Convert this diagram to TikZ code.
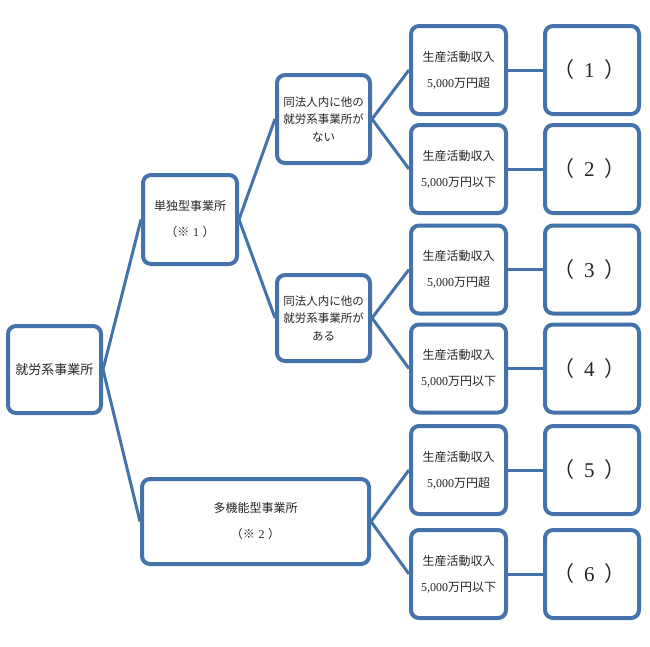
\documentclass[tikz,border=0pt]{standalone}
\usepackage{fontspec}
\setmainfont{Liberation Serif}
\newfontfamily\cjk{Noto Sans CJK JP}
\usetikzlibrary{positioning,shadows}
\definecolor{boxblue}{RGB}{68,114,170}
\newcommand \incometext[1]
{
{\cjk 生産活動収入}\\5,000{\cjk 万円#1}
}
\newcommand \casetext[1]
{
{\cjk （}\hspace{0.45em}#1\hspace{0.45em}{\cjk ）}
}
\newcommand \notetext[1]
{
{\cjk （※}\hspace{0.3em}#1\hspace{0.3em}{\cjk ）}
}
\begin{document}
\begin{tikzpicture}[x=1pt, y=-1pt, line join=round,
  box/.style={draw=boxblue, line width=4pt, rounded corners=8pt, fill=white,
    align=center, inner sep=0pt, text=black!85,
    drop shadow={shadow xshift=1.5pt, shadow yshift=-1.5pt, opacity=0.25}},
  twoline/.style={font=\fontsize{12}{26}\selectfont},
  threeline/.style={font=\fontsize{11.5}{17.5}\selectfont\cjk},
  incbox/.style={box, twoline, minimum width=95pt, minimum height=88pt},
  casebox/.style={box, minimum width=94pt, minimum height=88pt, font=\fontsize{21}{24}\selectfont},
  link/.style={draw=boxblue, line width=3pt}]
\useasboundingbox (0,0) rectangle (650,646);
% first and second level
\node[box, minimum width=93pt, minimum height=87pt, font=\fontsize{13}{16}\selectfont\cjk] (root) at (54.5,369.5) {就労系事業所};
\node[box, twoline, minimum width=94pt, minimum height=89pt] (tandoku) at (190,219.5) {{\cjk 単独型事業所}\\\notetext{1}};
\node[box, twoline, minimum width=227pt, minimum height=85pt] (takino) at (255.5,521.5) {{\cjk 多機能型事業所}\\\notetext{2}};
% third level
\node[box, threeline, minimum width=93pt, minimum height=88pt] (nai) at (323.5,119) {同法人内に他の\\就労系事業所が\\ない};
\node[box, threeline, minimum width=93pt, minimum height=86pt] (aru) at (323.5,318) {同法人内に他の\\就労系事業所が\\ある};
% income boxes
\node[incbox] (inc1) at (458.5,70)    {\incometext{超}};
\node[incbox] (inc2) at (458.5,169)   {\incometext{以下}};
\node[incbox] (inc3) at (458.5,269.5) {\incometext{超}};
\node[incbox] (inc4) at (458.5,368.5) {\incometext{以下}};
\node[incbox] (inc5) at (458.5,470)   {\incometext{超}};
\node[incbox] (inc6) at (458.5,574)   {\incometext{以下}};
% cases
\node[casebox] (case1) at (592,70)    {\casetext{1}};
\node[casebox] (case2) at (592,169)   {\casetext{2}};
\node[casebox] (case3) at (592,269.5) {\casetext{3}};
\node[casebox] (case4) at (592,368.5) {\casetext{4}};
\node[casebox] (case5) at (592,470)   {\casetext{5}};
\node[casebox] (case6) at (592,574)   {\casetext{6}};
% connectors
\draw[link] (root.east)--(tandoku.west);
\draw[link] (root.east)--(takino.west);
\draw[link] (tandoku.east)--(nai.west);
\draw[link] (tandoku.east)--(aru.west);
\draw[link] (nai.east)--(inc1.west);
\draw[link] (nai.east)--(inc2.west);
\draw[link] (aru.east)--(inc3.west);
\draw[link] (aru.east)--(inc4.west);
\draw[link] (takino.east)--(inc5.west);
\draw[link] (takino.east)--(inc6.west);
\draw[link] (inc1.east)--(case1.west);
\draw[link] (inc2.east)--(case2.west);
\draw[link] (inc3.east)--(case3.west);
\draw[link] (inc4.east)--(case4.west);
\draw[link] (inc5.east)--(case5.west);
\draw[link] (inc6.east)--(case6.west);
\end{tikzpicture}
\end{document}
